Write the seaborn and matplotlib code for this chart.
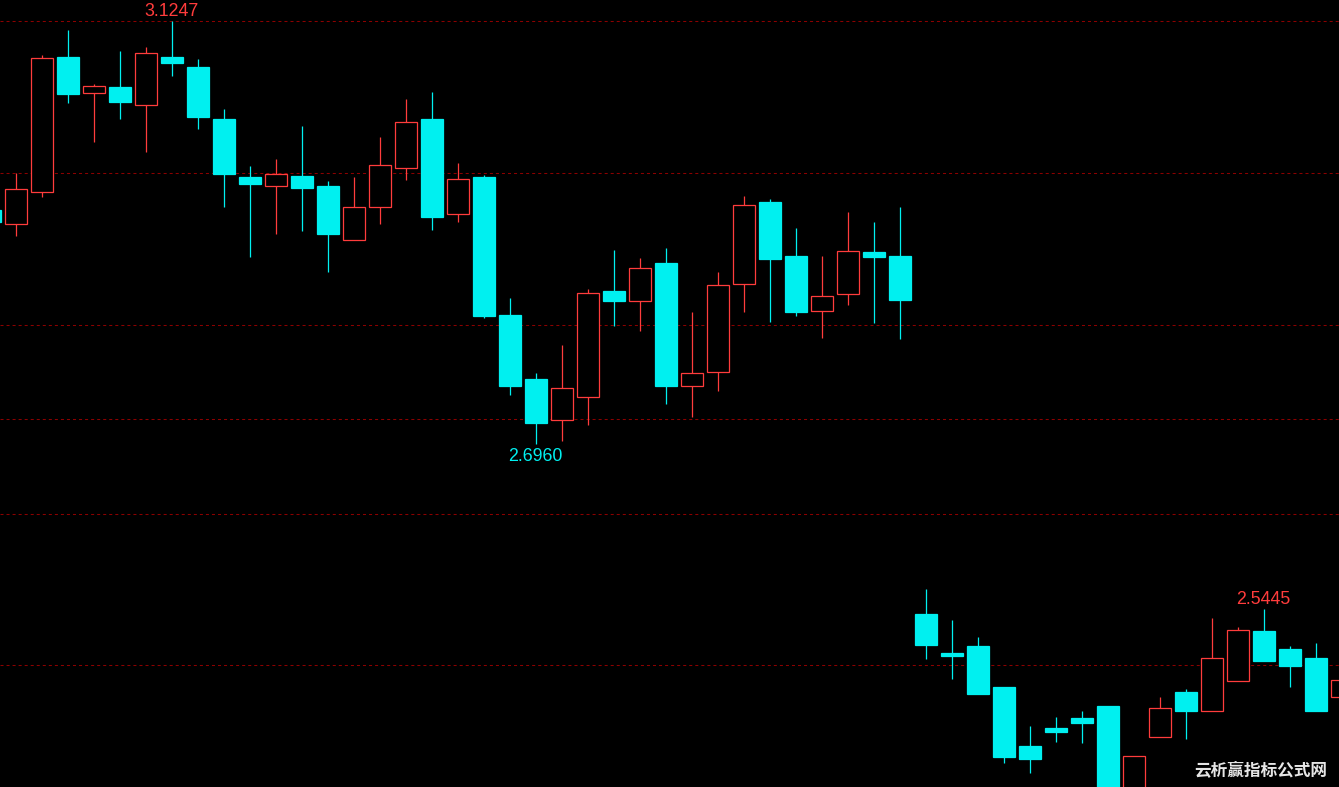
import numpy as np
import pandas as pd
import matplotlib
matplotlib.use('Agg')
import matplotlib.pyplot as plt
import seaborn as sns

# OHLC per bar (price axis is logarithmic)
opens = [2.9253, 2.9109, 2.9434, 3.0860, 3.0476, 3.0537, 3.0348, 3.0860, 3.0752, 3.0199,
         2.9594, 2.9493, 2.9604, 2.9500, 2.8948, 2.9280, 2.9685, 3.0199, 2.9210, 2.9594,
         2.8201, 2.7579, 2.7181, 2.7401, 2.8438, 2.8342, 2.8720, 2.7508, 2.7644, 2.8505,
         2.9334, 2.8790, 2.8237, 2.8404, 2.8830, 2.8790, 2.5400, 2.5057, 2.5119, 2.4767,
         2.4264, 2.4416, 2.4501, 2.4602, 2.3740, 2.4337, 2.4723, 2.4557, 2.4817, 2.5251,
         2.5093, 2.5013, 2.4677]
highs = [2.9314, 2.9632, 3.0881, 3.1150, 3.0569, 3.0924, 3.0967, 3.1247, 3.0835, 3.0303,
         2.9709, 2.9782, 3.0126, 2.9552, 2.9594, 3.0011, 3.0408, 3.0483, 2.9740, 2.9615,
         2.8367, 2.7637, 2.7910, 2.8458, 2.8850, 2.8770, 2.8871, 2.8230, 2.8629, 2.9396,
         2.9364, 2.9072, 2.8790, 2.9233, 2.9132, 2.9284, 2.5631, 2.5347, 2.5198, 2.4767,
         2.4433, 2.4509, 2.4560, 2.4602, 2.4179, 2.4679, 2.4750, 2.5365, 2.5286, 2.5445,
         2.5119, 2.5145, 2.4880]
lows = [2.9072, 2.8984, 2.9388, 3.0369, 2.9952, 3.0192, 2.9847, 3.0648, 3.0087, 2.9287,
        2.8773, 2.9005, 2.9035, 2.8622, 2.8948, 2.9105, 2.9555, 2.9045, 2.9125, 2.8165,
        2.7427, 2.6960, 2.6983, 2.7134, 2.8087, 2.8039, 2.7340, 2.7209, 2.7465, 2.8224,
        2.8126, 2.8185, 2.7971, 2.8301, 2.8117, 2.7961, 2.5007, 2.4831, 2.4700, 2.4114,
        2.4029, 2.4292, 2.4283, 2.3680, 2.3700, 2.4337, 2.4317, 2.4557, 2.4817, 2.4990,
        2.4761, 2.4554, 2.4640]
closes = [2.9132, 2.9466, 3.0846, 3.0462, 3.0544, 3.0376, 3.0903, 3.0788, 3.0212, 2.9618,
          2.9514, 2.9622, 2.9482, 2.9005, 2.9280, 2.9716, 3.0164, 2.9176, 2.9570, 2.8194,
          2.7504, 2.7152, 2.7489, 2.8418, 2.8340, 2.8666, 2.7504, 2.7634, 2.8495, 2.9301,
          2.8753, 2.8233, 2.8384, 2.8837, 2.8773, 2.8350, 2.5130, 2.5034, 2.4700, 2.4165,
          2.4148, 2.4376, 2.4453, 2.3725, 2.4179, 2.4583, 2.4554, 2.5020, 2.5266, 2.4990,
          2.4946, 2.4554, 2.4826]

# dashed horizontal levels
grid_levels = [3.1244, 2.9632, 2.8101, 2.7194, 2.6309, 2.4958]

# marked extremes: bar index, which end, text
mark_bars = [7, 21, 49]
mark_side = ['high', 'low', 'high']
mark_text = ['3.1247', '2.6960', '2.5445']

UP = '#ff3c3c'
DOWN = '#00f0f0'

df = pd.DataFrame({'open': opens, 'high': highs, 'low': lows, 'close': closes})
df['idx'] = np.arange(len(df))
df['up'] = df['close'] >= df['open']
df['bottom'] = df[['open', 'close']].min(axis=1)
df['height'] = (df['close'] - df['open']).abs()

sns.set_theme(style='dark', rc={'axes.facecolor': 'black', 'figure.facecolor': 'black'})
plt.rcParams['font.family'] = ['DejaVu Sans', 'Noto Sans CJK SC']

fig = plt.figure(figsize=(13.39, 7.87), dpi=100)
ax = fig.add_axes([0, 0, 1, 1])
ax.set_yscale('log')

for lvl in grid_levels:
    ax.axhline(lvl, color='#8c0000', lw=0.75, ls=(0, (2.9, 2.9)), zorder=1)

colors = np.where(df['up'], UP, DOWN)
ax.vlines(df['idx'], df['low'], df['high'], colors=colors, lw=0.9, zorder=2)

up = df[df['up']]
dn = df[~df['up']]
ax.bar(up['idx'], up['height'], bottom=up['bottom'], width=0.85,
       facecolor='black', edgecolor=UP, linewidth=0.9, zorder=3)
ax.bar(dn['idx'], dn['height'], bottom=dn['bottom'], width=0.85,
       facecolor=DOWN, edgecolor=DOWN, linewidth=0.9, zorder=3)

# price labels sit on their baseline, a few pixels off the extreme
for i, side, txt in zip(mark_bars, mark_side, mark_text):
    yv = df.loc[i, side]
    if side == 'high':
        off, col = 5, UP
    else:
        off, col = -17.5, DOWN
    ax.annotate(txt, (i - 0.03, yv), xytext=(0, off), textcoords='offset pixels',
                ha='center', va='baseline', color=col, fontsize=12.8,
                family='Liberation Sans', zorder=4)

ax.set_xlim(0.3846, 51.8846)
ax.set_ylim(2.3915, 3.1477)
ax.set_axis_off()

fig.text(1327 / 1339, 1 - 770 / 787, '云析赢指标公式网', ha='right', va='center',
         color='#e6e6e6', fontsize=12, fontweight='bold',
         family=['Noto Sans CJK SC', 'DejaVu Sans'])

fig.savefig('out.png', dpi=100, facecolor='black')
